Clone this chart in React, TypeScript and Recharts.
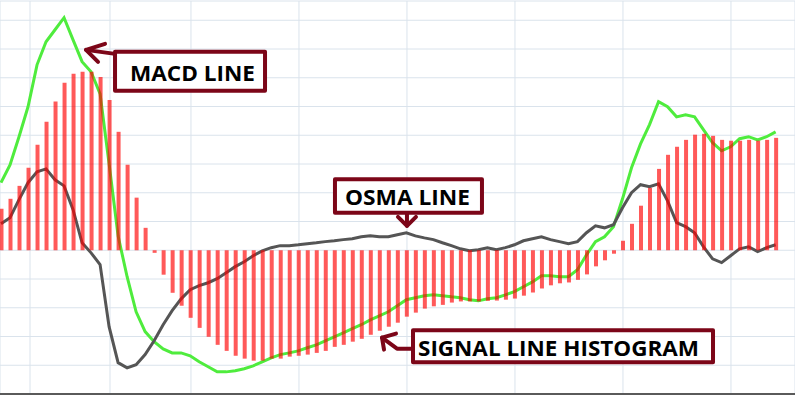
import React from "react";
import {
  ComposedChart,
  Bar,
  Line,
  XAxis,
  YAxis,
  CartesianGrid,
  ReferenceDot,
} from "recharts";

// Histogram (signal line histogram) values per period
const histogram = [
  1.44, 1.79, 2.24, 2.87, 3.67, 4.47, 5.17, 5.83, 6.14, 6.21,
  6.21, 6.03, 5.23, 4.12, 2.97, 1.83, 0.78, -0.09, -0.85, -1.48,
  -1.93, -2.35, -2.7, -3.01, -3.29, -3.5, -3.67, -3.77, -3.84, -3.84,
  -3.77, -3.77, -3.7, -3.67, -3.63, -3.57, -3.5, -3.36, -3.29, -3.18,
  -3.08, -2.94, -2.8, -2.66, -2.52, -2.31, -2.17, -2.03, -1.95, -1.9,
  -1.82, -1.78, -1.78, -1.78, -1.76, -1.75, -1.72, -1.68, -1.58, -1.47,
  -1.33, -1.22, -1.15, -1.12, -1.03, -0.84, -0.56, -0.35, -0.12, 0.33,
  0.92, 1.55, 2.17, 2.83, 3.32, 3.6, 3.84, 4.02, 4.05, 3.98,
  3.84, 3.81, 3.81, 3.84, 3.81, 3.84, 3.91,
];

// MACD line (green)
const macdLine = [
  2.35, 2.97, 3.95, 4.99, 6.45, 7.25, 7.67, 8.09, 7.32, 6.56,
  6.21, 5.44, 3.01, 0.5, -0.92, -2.14, -2.83, -3.18, -3.43, -3.57,
  -3.57, -3.67, -3.88, -4.05, -4.23, -4.23, -4.19, -4.12, -4.02, -3.88,
  -3.74, -3.63, -3.57, -3.5, -3.39, -3.29, -3.15, -3.01, -2.87, -2.73,
  -2.59, -2.42, -2.28, -2.14, -1.93, -1.72, -1.65, -1.58, -1.55, -1.58,
  -1.62, -1.65, -1.72, -1.76, -1.69, -1.65, -1.55, -1.44, -1.27, -1.1,
  -0.89, -0.89, -0.92, -0.92, -0.68, -0.16, 0.3, 0.47, 0.82, 1.79,
  2.87, 3.7, 4.37, 5.17, 4.99, 4.64, 4.71, 4.64, 4.19, 3.74,
  3.46, 3.6, 3.88, 3.95, 3.84, 3.95, 4.12,
];

// OSMA line (dark gray)
const osmaLine = [
  0.92, 1.13, 1.76, 2.35, 2.73, 2.83, 2.45, 2.24, 1.41, 0.26,
  -0.09, -0.5, -2.66, -3.91, -4.09, -3.98, -3.63, -3.15, -2.59, -2.1,
  -1.69, -1.37, -1.23, -1.13, -0.99, -0.78, -0.57, -0.4, -0.19, -0.02,
  0.09, 0.16, 0.16, 0.19, 0.23, 0.26, 0.3, 0.33, 0.37, 0.4,
  0.47, 0.5, 0.47, 0.47, 0.54, 0.61, 0.5, 0.43, 0.37, 0.26,
  0.16, 0.05, -0.02, 0.02, 0.09, 0.02, 0.09, 0.19, 0.33, 0.4,
  0.47, 0.37, 0.3, 0.23, 0.3, 0.61, 0.85, 0.78, 0.89, 1.48,
  2.0, 2.28, 2.21, 2.31, 1.72, 0.96, 0.82, 0.61, 0.12, -0.3,
  -0.43, -0.19, 0.05, 0.12, -0.05, 0.09, 0.19,
];

// Vertical grid positions (in period units) and horizontal grid values
const xGridTicks = [3.22, 12.1, 21.09, 33.08, 45.07, 57.06, 69.05, 81.04];
const yGridTicks = [-5, -4, -3, -2, -1, 0, 1, 2, 3, 4, 5, 6, 7, 8];

// Callout labels and the data point each arrow points at
const calloutLabels = ["MACD LINE", "OSMA LINE", "SIGNAL LINE HISTOGRAM"];
const calloutX = [9.44, 45.07, 42.3];
const calloutY = [6.97, 0.85, -3.04];

const data = histogram.map((h, i) => ({
  i,
  hist: h,
  macd: macdLine[i],
  osma: osmaLine[i],
}));

const MAROON = "#7c0618";

type Style = {
  box: [number, number, number, number];
  text: [number, number, number];
  head: [number, number][];
  shaft: [number, number][];
};

const calloutStyles: Style[] = [
  {
    box: [29, 2, 150, 39],
    text: [44, 31.5, 125],
    head: [[19, -6], [0, 0], [12, 12]],
    shaft: [[0, 0], [29, 4]],
  },
  {
    box: [-72, -46.5, 147, 33.5],
    text: [-62, -21, 125],
    head: [[-9, -9], [0, 0], [9, -9]],
    shaft: [[0, -13], [0, 0]],
  },
  {
    box: [31, -7.3, 300, 32],
    text: [36, 18, 281],
    head: [[14, -4], [0, 0], [2, 12]],
    shaft: [[0, 0], [15, 11], [31, 11]],
  },
];

function Callout(props: any) {
  const { cx, cy, label, st } = props;
  if (cx == null || cy == null) return null;
  const pts = (arr: [number, number][]) =>
    arr.map(([dx, dy]) => `${cx + dx},${cy + dy}`).join(" ");
  return (
    <g>
      <polyline
        points={pts(st.shaft)}
        fill="none"
        stroke={MAROON}
        strokeWidth={4}
        strokeLinecap="round"
        strokeLinejoin="round"
      />
      <polyline
        points={pts(st.head)}
        fill="none"
        stroke={MAROON}
        strokeWidth={4}
        strokeLinecap="round"
        strokeLinejoin="round"
      />
      <rect
        x={cx + st.box[0]}
        y={cy + st.box[1]}
        width={st.box[2]}
        height={st.box[3]}
        fill="#ffffff"
        stroke={MAROON}
        strokeWidth={4}
        strokeLinejoin="round"
      />
      <text
        x={cx + st.text[0]}
        y={cy + st.text[1]}
        fontFamily="'Open Sans', 'Noto Sans', sans-serif"
        fontWeight={700}
        fontSize={21}
        fill="#000000"
        textLength={st.text[2]}
        lengthAdjust="spacingAndGlyphs"
      >
        {label}
      </text>
    </g>
  );
}

export default function App() {
  return (
    <div
      style={{
        position: "fixed",
        left: 0,
        top: 0,
        width: 795,
        height: 395,
        background: "#ffffff",
      }}
    >
      <ComposedChart
        width={795}
        height={395}
        data={data}
        margin={{ top: 1, right: 0, bottom: 0, left: 0 }}
      >
        <CartesianGrid
          stroke="#dae3ec"
          strokeWidth={1}
          vertical
          horizontal
        />
        <XAxis
          type="number"
          dataKey="i"
          domain={[-0.111, 88.15]}
          allowDataOverflow
          ticks={xGridTicks}
          interval={0}
          tick={() => <g />}
          tickLine={false}
          axisLine={{ stroke: "#5a5a5a", strokeWidth: 2 }}
          height={1}
        />
        <YAxis
          hide
          type="number"
          domain={[-5, 8.67]}
          allowDataOverflow
          ticks={yGridTicks}
          interval={0}
          width={0}
        />
        <Line
          type="linear"
          dataKey="macd"
          stroke="#4fec3d"
          strokeWidth={3}
          dot={false}
          activeDot={false}
          isAnimationActive={false}
        />
        <Line
          type="linear"
          dataKey="osma"
          stroke="#555555"
          strokeWidth={3}
          dot={false}
          activeDot={false}
          isAnimationActive={false}
        />
        <Bar
          dataKey="hist"
          fill="rgba(255,0,0,0.65)"
          barSize={4}
          isAnimationActive={false}
          zIndex={450}
        />
        {calloutLabels.map((label, k) => (
          <ReferenceDot
            key={label}
            x={calloutX[k]}
            y={calloutY[k]}
            r={0}
            ifOverflow="visible"
            zIndex={1000}
            shape={(p: any) => (
              <Callout {...p} label={label} st={calloutStyles[k]} />
            )}
          />
        ))}
      </ComposedChart>
    </div>
  );
}
